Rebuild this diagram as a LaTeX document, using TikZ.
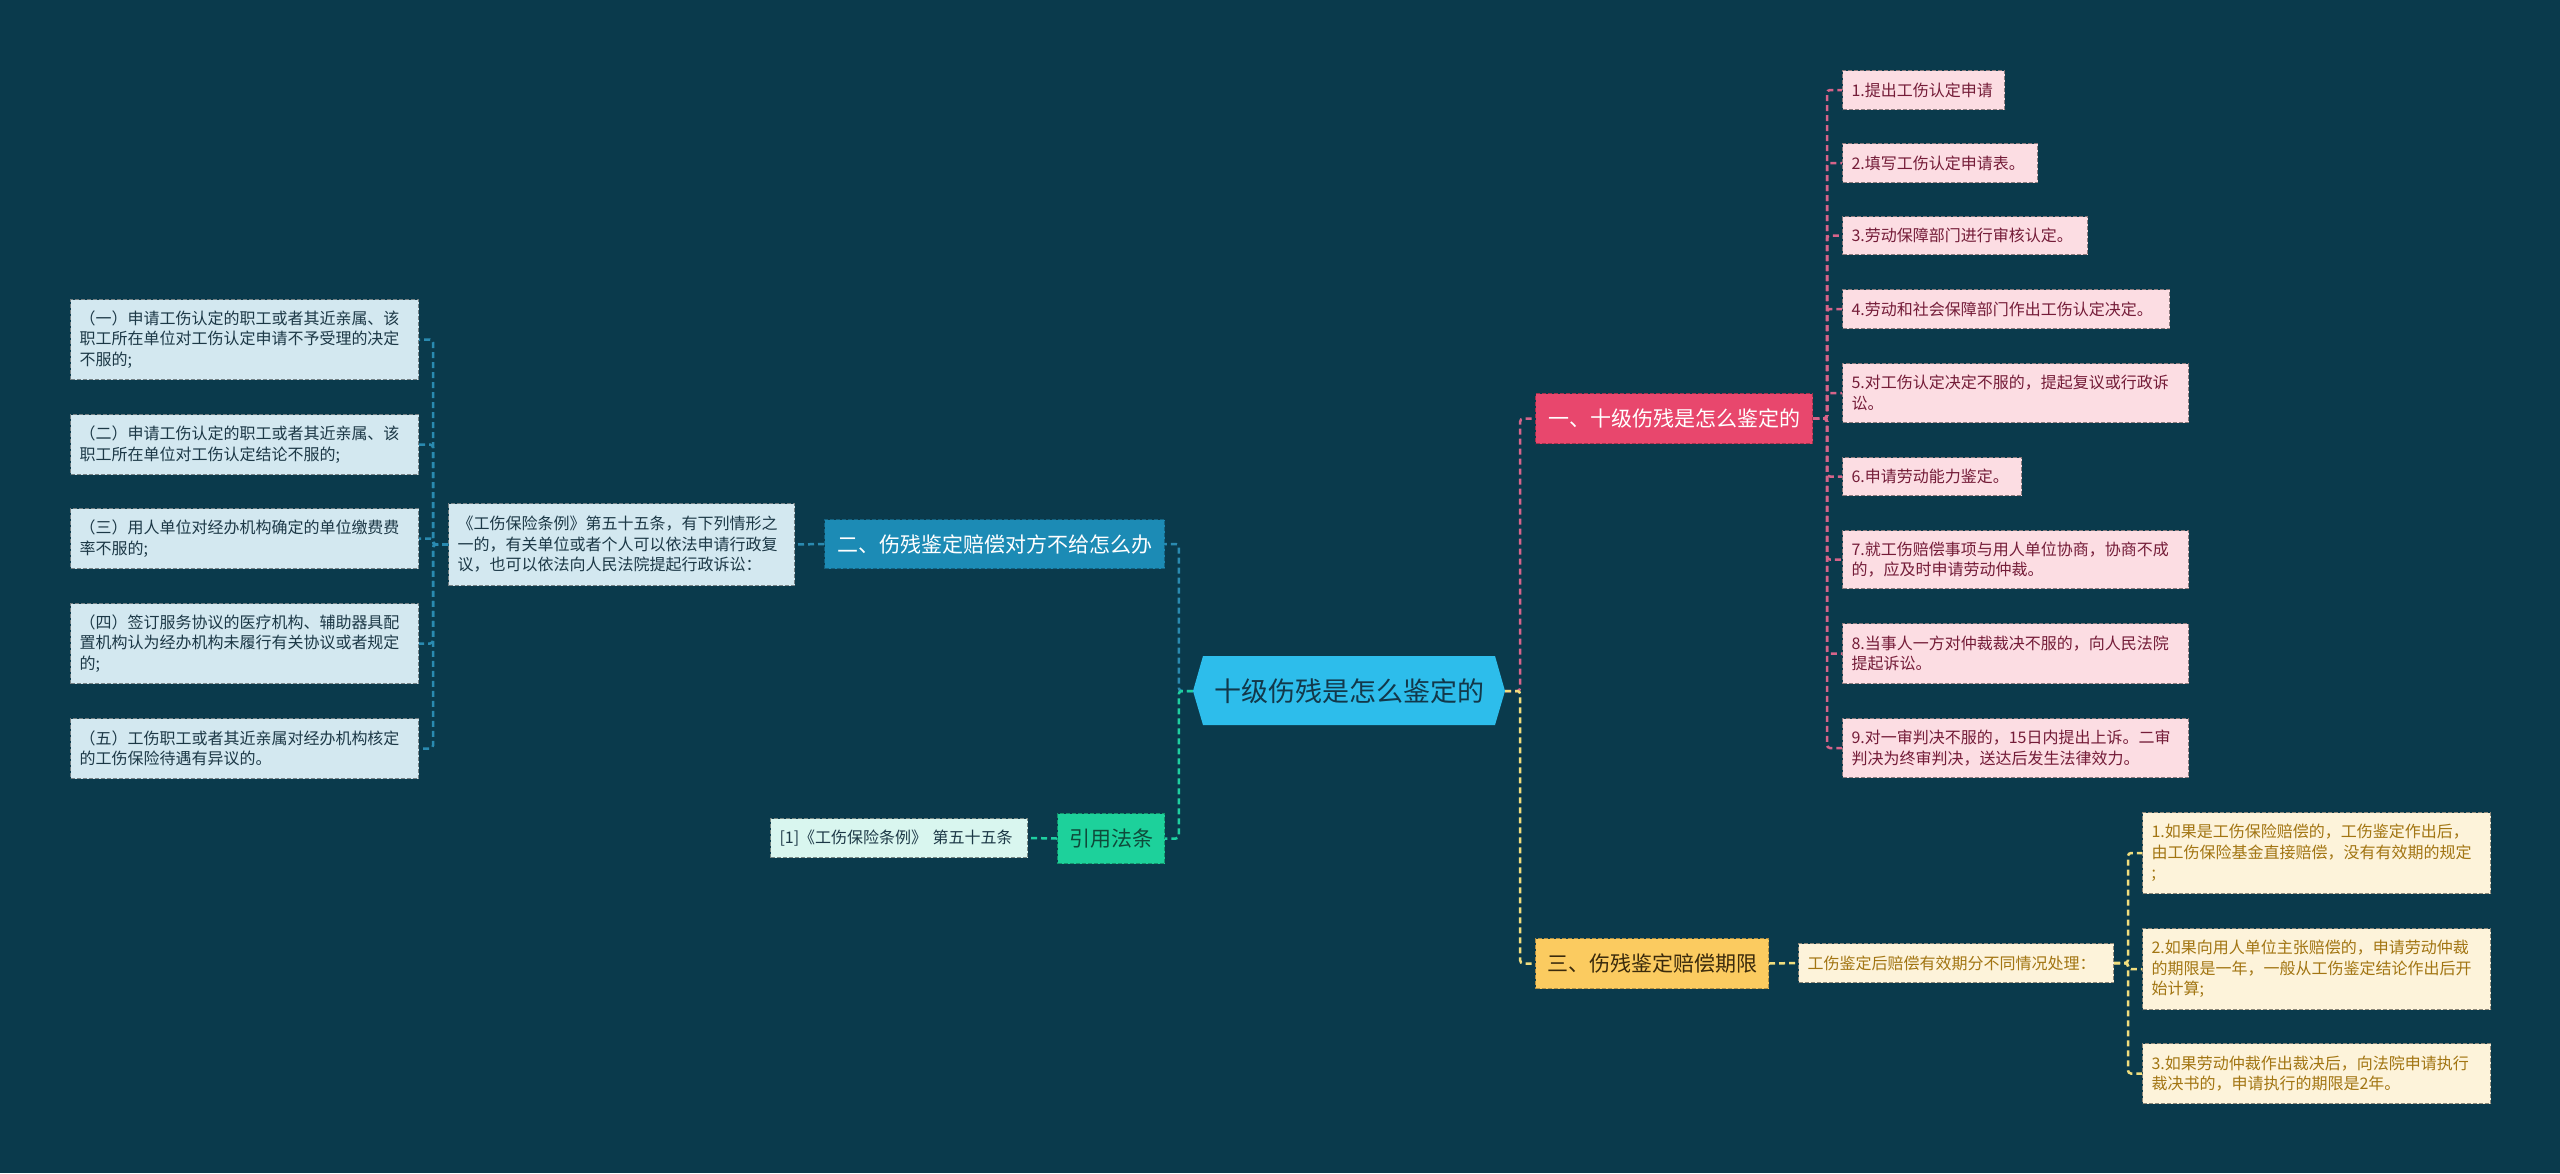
\documentclass[tikz,border=0pt]{standalone}
\usepackage{fontspec}
\setmainfont{Noto Sans CJK SC}
\definecolor{bg}{HTML}{0A3A4C}
\definecolor{rootfill}{HTML}{2DBDEB}
\definecolor{roottext}{HTML}{12384A}
\definecolor{pinkb}{HTML}{E8476D}
\definecolor{pinkline}{HTML}{D6648A}
\definecolor{pinkfill}{HTML}{FCDDE3}
\definecolor{pinktext}{HTML}{741C38}
\definecolor{blueb}{HTML}{1C8BB5}
\definecolor{blueline}{HTML}{2A8AB0}
\definecolor{bluefill}{HTML}{D3E8F0}
\definecolor{bluetext}{HTML}{1C3846}
\definecolor{greenb}{HTML}{1DD19B}
\definecolor{greenline}{HTML}{1ECFA0}
\definecolor{greenfill}{HTML}{D9F6EF}
\definecolor{greentext}{HTML}{0E4A3A}
\definecolor{yellowb}{HTML}{FBCB60}
\definecolor{yellowline}{HTML}{F1DE7E}
\definecolor{yellowfill}{HTML}{FDF3DA}
\definecolor{yellowtext}{HTML}{A27512}
\definecolor{ybtext}{HTML}{3A2A0C}
\begin{document}
\begin{tikzpicture}[x=1pt,y=-1pt,
  conn/.style={line width=2.5pt,dash pattern=on 6pt off 4pt,rounded corners=3pt},
  cpink/.style={conn,draw=pinkline},
  cblue/.style={conn,draw=blueline},
  cgreen/.style={conn,draw=greenline},
  cyellow/.style={conn,draw=yellowline},
  leaf/.style={anchor=north west,inner xsep=9pt,inner ysep=0pt,align=left,
    line width=1pt,dash pattern=on 4pt off 2pt,
    font=\fontsize{16pt}{20.5pt}\selectfont},
  pitem/.style={leaf,fill=pinkfill,draw=pinkfill!55!black,text=pinktext},
  litem/.style={leaf,fill=bluefill,draw=bluefill!55!black,text=bluetext},
  yitem/.style={leaf,fill=yellowfill,draw=yellowfill!55!black,text=yellowtext},
  citem/.style={leaf,fill=greenfill,draw=greenfill!55!black,text=bluetext},
  branch/.style={anchor=north west,inner sep=0pt,align=center,
    line width=1pt,dash pattern=on 4pt off 2pt,
    font=\fontsize{21pt}{25pt}\selectfont},
]
\useasboundingbox (0,0) rectangle (2560,1173);
\fill[bg] (0,0) rectangle (2560,1173);

% root hexagon
\fill[rootfill] (1193,691) -- (1203,656) -- (1495,656) -- (1505,691) -- (1495,725) -- (1203,725) -- cycle;
\node[minimum width=312pt,minimum height=69pt,inner sep=0pt,text=roottext,
  font=\fontsize{27pt}{32pt}\selectfont] (root) at (1349,691) {十级伤残是怎么鉴定的};

% branches
\node[branch,fill=pinkb,draw=pinkb!70!black,text=white,minimum width=277pt,minimum height=50pt] (b1) at (1535,393) {一、十级伤残是怎么鉴定的};
\node[branch,fill=blueb,draw=blueb!70!black,text=white,minimum width=340pt,minimum height=49pt] (b2) at (824,519) {二、伤残鉴定赔偿对方不给怎么办};
\node[branch,fill=yellowb,draw=yellowb!70!black,text=ybtext,minimum width=233pt,minimum height=50pt] (b3) at (1535,938) {三、伤残鉴定赔偿期限};
\node[branch,fill=greenb,draw=greenb!70!black,text=greentext,minimum width=107pt,minimum height=50pt] (b4) at (1057,813) {引用法条};

% pink items
\node[pitem,minimum width=162pt,minimum height=39pt,text width=144pt] (p1) at (1842,70) {1.提出工伤认定申请};
\node[pitem,minimum width=195pt,minimum height=39pt,text width=177pt] (p2) at (1842,143) {2.填写工伤认定申请表。};
\node[pitem,minimum width=245pt,minimum height=38pt,text width=227pt] (p3) at (1842,216) {3.劳动保障部门进行审核认定。};
\node[pitem,minimum width=327pt,minimum height=39pt,text width=309pt] (p4) at (1842,289) {4.劳动和社会保障部门作出工伤认定决定。};
\node[pitem,minimum width=346pt,minimum height=59pt,text width=328pt] (p5) at (1842,363) {5.对工伤认定决定不服的，提起复议或行政诉\\讼。};
\node[pitem,minimum width=179pt,minimum height=38pt,text width=161pt] (p6) at (1842,457) {6.申请劳动能力鉴定。};
\node[pitem,minimum width=346pt,minimum height=58pt,text width=328pt] (p7) at (1842,530) {7.就工伤赔偿事项与用人单位协商，协商不成\\的，应及时申请劳动仲裁。};
\node[pitem,minimum width=346pt,minimum height=60pt,text width=328pt] (p8) at (1842,623) {8.当事人一方对仲裁裁决不服的，向人民法院\\提起诉讼。};
\node[pitem,minimum width=346pt,minimum height=59pt,text width=328pt] (p9) at (1842,718) {9.对一审判决不服的，15日内提出上诉。二审\\判决为终审判决，送达后发生法律效力。};

% left items
\node[litem,minimum width=348pt,minimum height=80pt,text width=330pt] (l1) at (70,299) {（一）申请工伤认定的职工或者其近亲属、该\\职工所在单位对工伤认定申请不予受理的决定\\不服的;};
\node[litem,minimum width=348pt,minimum height=60pt,text width=330pt] (l2) at (70,414) {（二）申请工伤认定的职工或者其近亲属、该\\职工所在单位对工伤认定结论不服的;};
\node[litem,minimum width=348pt,minimum height=60pt,text width=330pt] (l3) at (70,508) {（三）用人单位对经办机构确定的单位缴费费\\率不服的;};
\node[litem,minimum width=348pt,minimum height=80pt,text width=330pt] (l4) at (70,603) {（四）签订服务协议的医疗机构、辅助器具配\\置机构认为经办机构未履行有关协议或者规定\\的;};
\node[litem,minimum width=348pt,minimum height=60pt,text width=330pt] (l5) at (70,718) {（五）工伤职工或者其近亲属对经办机构核定\\的工伤保险待遇有异议的。};
\node[litem,minimum width=346pt,minimum height=82pt,text width=328pt] (b2s) at (448,503) {《工伤保险条例》第五十五条，有下列情形之\\一的，有关单位或者个人可以依法申请行政复\\议，也可以依法向人民法院提起行政诉讼：};

% citation
\node[citem,minimum width=257pt,minimum height=39pt,text width=239pt] (cite) at (770,818) {[1]《工伤保险条例》 第五十五条};

% yellow items
\node[yitem,minimum width=315pt,minimum height=39pt,text width=297pt] (b3s) at (1798,943) {工伤鉴定后赔偿有效期分不同情况处理：};
\node[yitem,minimum width=348pt,minimum height=81pt,text width=330pt] (y1) at (2142,812) {1.如果是工伤保险赔偿的，工伤鉴定作出后，\\由工伤保险基金直接赔偿，没有有效期的规定\\;};
\node[yitem,minimum width=348pt,minimum height=81pt,text width=330pt] (y2) at (2142,928) {2.如果向用人单位主张赔偿的，申请劳动仲裁\\的期限是一年，一般从工伤鉴定结论作出后开\\始计算;};
\node[yitem,minimum width=348pt,minimum height=60pt,text width=330pt] (y3) at (2142,1043) {3.如果劳动仲裁作出裁决后，向法院申请执行\\裁决书的，申请执行的期限是2年。};

% connectors
\draw[cblue] (root.west) -- ++(-14,0) |- (b2.east);
\draw[cgreen] (root.west) -- ++(-14,0) |- (b4.east);
\draw[cpink] (root.east) -- ++(15,0) |- (b1.west);
\draw[cyellow] (root.east) -- ++(15,0) |- (b3.west);
\foreach \i in {1,...,9} \draw[cpink] (b1.east) -- ++(14,0) |- (p\i.west);
\draw[cblue] (b2.west) -- (b2s.east);
\foreach \i in {1,...,5} \draw[cblue] (b2s.west) -- ++(-15,0) |- (l\i.east);
\draw[cgreen] (b4.west) -- (cite.east);
\draw[cyellow] (b3.east) -- (b3s.west);
\foreach \i in {1,2,3} \draw[cyellow] (b3s.east) -- ++(14,0) |- (y\i.west);
\end{tikzpicture}
\end{document}
